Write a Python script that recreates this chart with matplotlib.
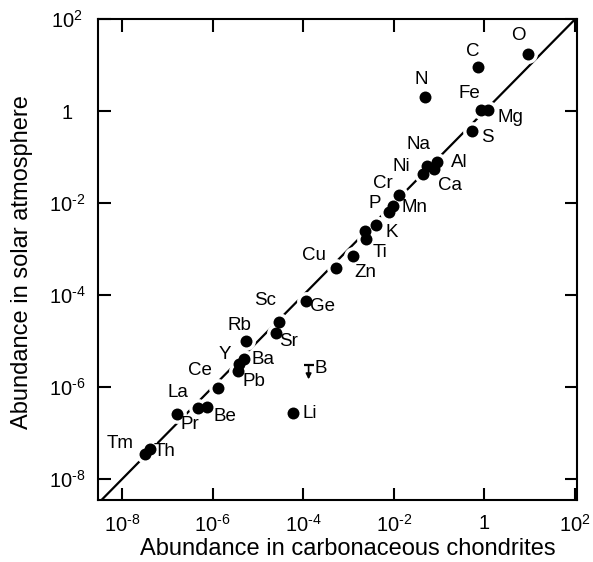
import matplotlib
matplotlib.use("Agg")
import matplotlib.pyplot as plt
from matplotlib.ticker import FixedLocator, FixedFormatter, NullLocator

plt.rcParams['font.family'] = ['Liberation Sans', 'DejaVu Sans']
plt.rcParams['mathtext.fontset'] = 'custom'
plt.rcParams['mathtext.rm'] = 'Liberation Sans'
plt.rcParams['mathtext.it'] = 'Liberation Sans'
plt.rcParams['mathtext.default'] = 'regular'

# ---- data ----
elements = ["O", "C", "N", "Fe", "Mg", "S", "Na", "Al", "Ni", "Ca", "Cr", "Mn",
            "P", "K", "", "Ti", "Cu", "Zn", "Ge", "Sc", "Sr", "Rb", "Ba", "Y",
            "Pb", "Ce", "La", "Be", "Pr", "Li", "Th", "Tm"]
chondrite = [9.1, 0.74, 0.048, 0.83, 1.23, 0.52, 0.054, 0.089, 0.045, 0.079,
             0.0129, 0.0098, 0.0079, 0.0041, 0.0023, 0.0025, 0.00123, 0.00052,
             1.15e-4, 2.95e-5, 2.5e-5, 5.5e-6, 5.0e-6, 3.9e-6, 3.6e-6, 1.29e-6,
             4.9e-7, 7.4e-7, 1.66e-7, 5.9e-5, 4.1e-8, 3.2e-8]
solar = [17.8, 9.1, 2.04, 1.05, 1.05, 0.38, 0.065, 0.078, 0.044, 0.056,
         0.0148, 0.0087, 0.0065, 0.0033, 0.0025, 0.0017, 0.00072, 0.00040,
         7.6e-5, 2.63e-5, 1.51e-5, 1.0e-5, 4.1e-6, 3.2e-6, 2.3e-6, 9.5e-7,
         3.6e-7, 3.8e-7, 2.57e-7, 2.7e-7, 4.6e-8, 3.5e-8]
# upper-limit point
limit_element = "B"
limit_chondrite = 1.32e-4
limit_solar = 3.0e-6

tick_values = [1e-8, 1e-6, 1e-4, 1e-2, 1, 1e2]
tick_labels = ["$10^{\u2010 8}$", "$10^{\u2010 6}$", "$10^{\u2010 4}$",
               "$10^{\u2010 2}$", "1", "$10^{2}$"]

# label offsets in pixels (dx, dy)
offsets = {"O": (-9, 18), "C": (-6, 16), "N": (-3, 18), "Fe": (-11, 17),
           "Mg": (22, -7), "S": (16, -7), "Na": (-8, 21), "Al": (22, 0),
           "Ni": (-22, 7), "Ca": (16, -17), "Cr": (-16, 12), "Mn": (21, -1),
           "P": (-14, 8), "K": (16, -7), "Ti": (14, -14), "Cu": (-39, 0),
           "Zn": (30, -5), "Sc": (-14, 21), "Ge": (17, -6), "Rb": (-7, 16),
           "Sr": (13, -8), "Y": (-14, 10), "Ba": (19, 0), "Ce": (-18, 18),
           "Pb": (16, -11), "La": (-21, 15), "Be": (18, -10), "Pr": (13, -10),
           "Li": (17, 0), "Th": (15, -3), "Tm": (-25, 11)}

fig = plt.figure(figsize=(5.93, 5.62), dpi=100)
ax = fig.add_axes([0.1658, 0.1103, 0.8077, 0.8554])
ax.set_xscale('log')
ax.set_yscale('log')
ax.set_xlim(10**-8.52, 10**2.05)
ax.set_ylim(10**-8.45, 10**2.0)

# diagonal y = x
ax.plot([1e-10, 1e3], [1e-10, 1e3], color='black', lw=1.6, zorder=1)

# white halos then black dots
ax.plot(chondrite, solar, 'o', ms=12.5, color='white', mec='white', zorder=2)
ax.plot(chondrite, solar, 'o', ms=8.6, color='black', mec='black', mew=0, zorder=3)

# upper limit for B
ax.plot([limit_chondrite], [limit_solar], marker='_', ms=7, mew=1.6, color='black', zorder=3)
ax.annotate("", xy=(limit_chondrite, limit_solar), xycoords='data',
            xytext=(0, -14), textcoords='offset pixels',
            arrowprops=dict(arrowstyle='<|-', color='black', lw=1.2,
                            mutation_scale=8, shrinkA=0, shrinkB=0))
ax.annotate(limit_element, (limit_chondrite, limit_solar), xytext=(12, -3),
            textcoords='offset pixels', ha='center', va='center', fontsize=13.5)

for name, xv, yv in zip(elements, chondrite, solar):
    if not name:
        continue
    dx, dy = offsets[name]
    ax.annotate(name, (xv, yv), xytext=(dx, dy), textcoords='offset pixels',
                ha='center', va='center', fontsize=13.5, zorder=4)

for axis in (ax.xaxis, ax.yaxis):
    axis.set_major_locator(FixedLocator(tick_values))
    axis.set_major_formatter(FixedFormatter(tick_labels))
    axis.set_minor_locator(NullLocator())

ax.tick_params(which='major', direction='in', length=9, width=1.5,
               top=True, right=True, labelsize=14.5)
ax.tick_params(axis='x', pad=10)
for lab in ax.get_yticklabels():
    lab.set_horizontalalignment('center')
ax.yaxis.set_tick_params(pad=22.5)

for sp in ax.spines.values():
    sp.set_linewidth(1.5)

ax.set_xlabel("Abundance in carbonaceous chondrites", fontsize=17, va='center')
ax.set_ylabel("Abundance in solar atmosphere", fontsize=17, va='center')
ax.xaxis.set_label_coords(0.52, -0.102)
ax.yaxis.set_label_coords(-0.159, 0.495)

fig.savefig("out.png", dpi=100)
